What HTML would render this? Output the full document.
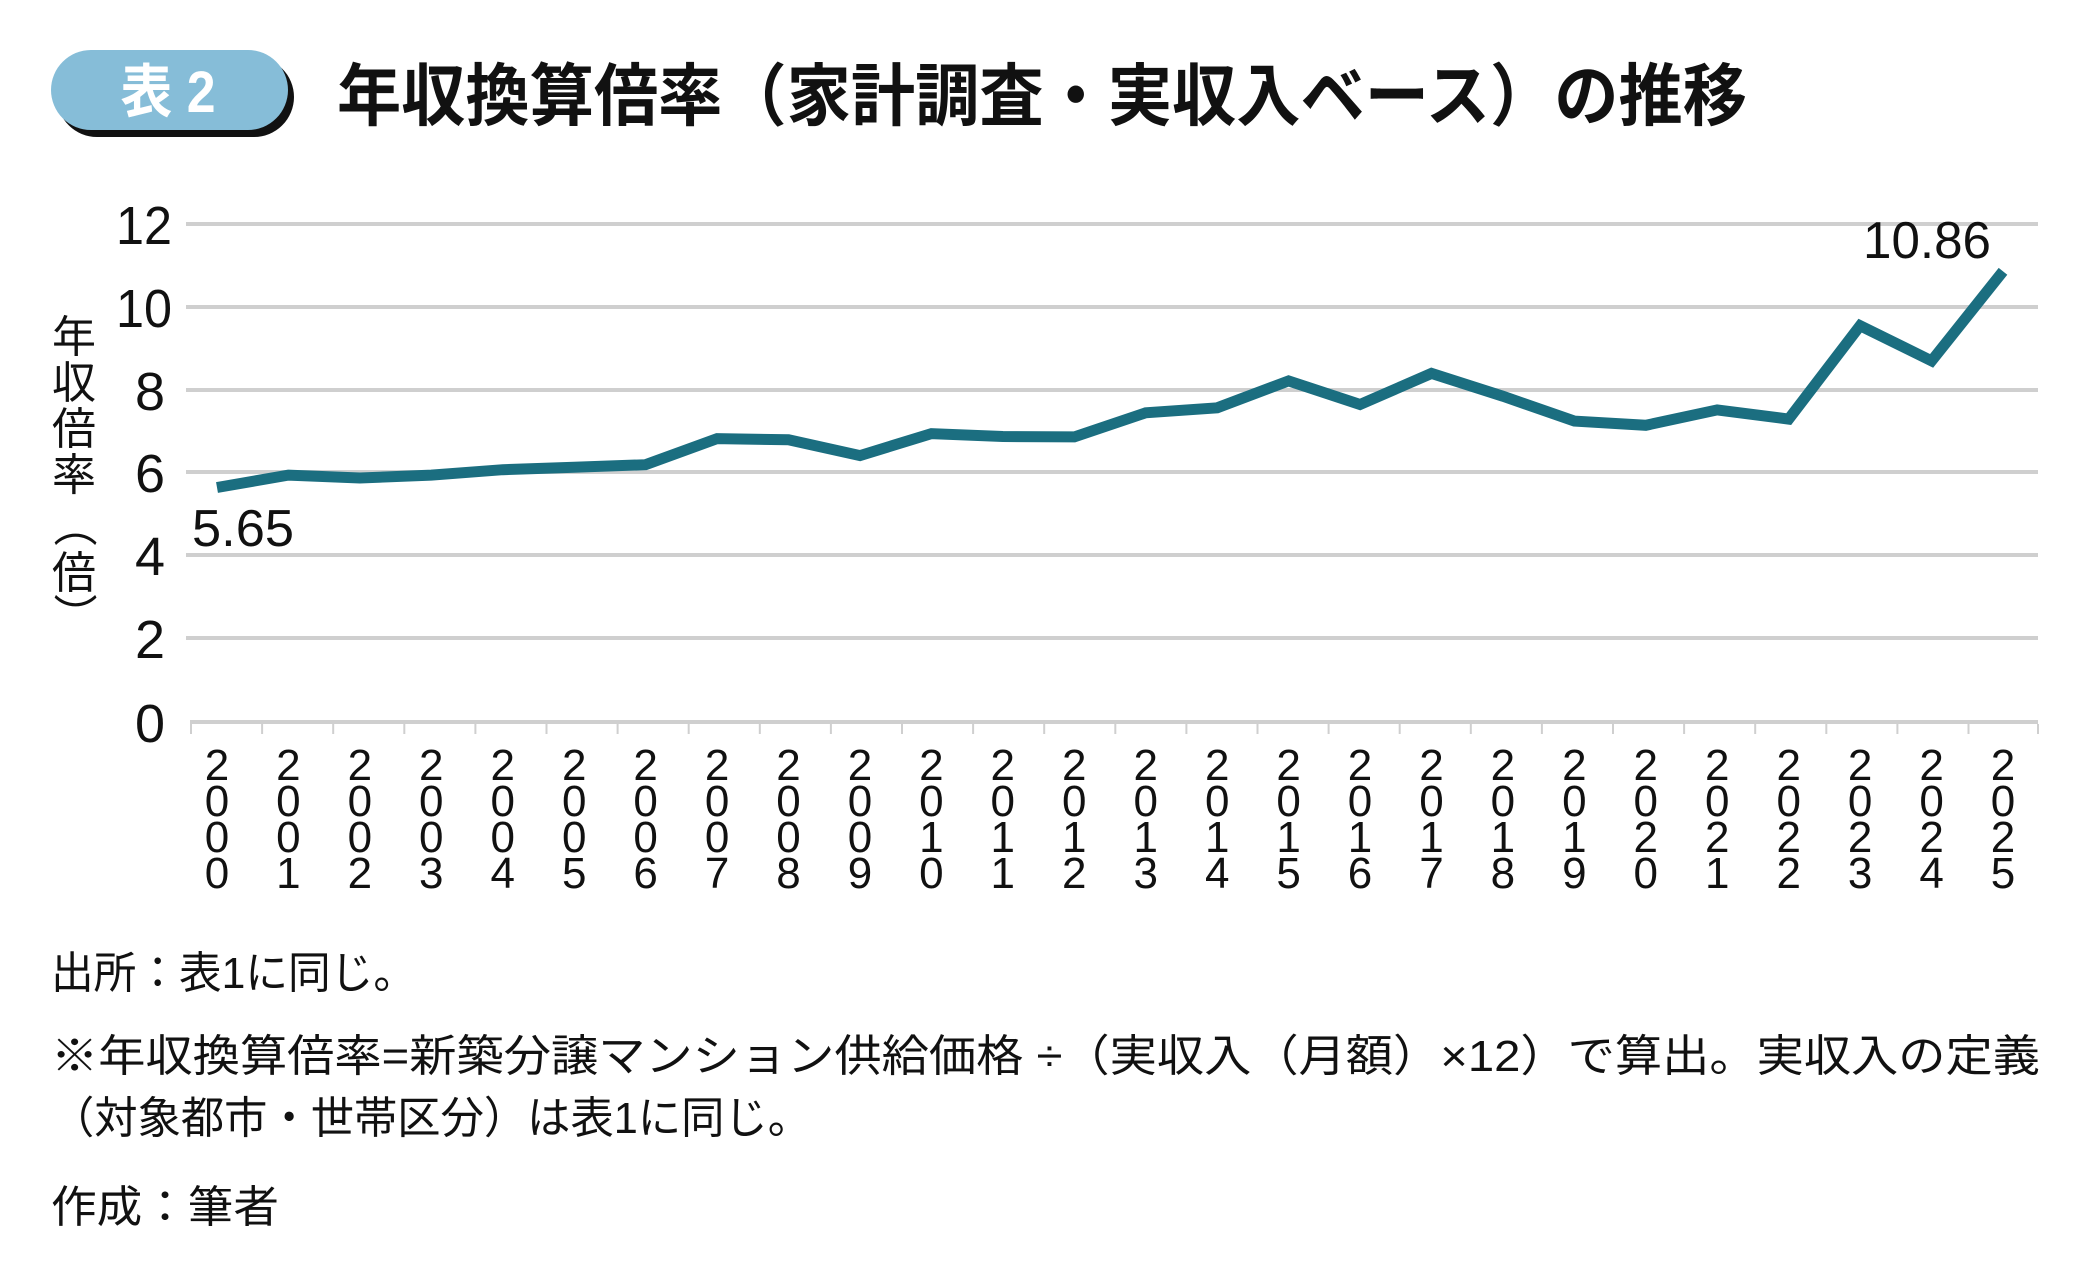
<!DOCTYPE html>
<html><head><meta charset="utf-8"><style>
html,body{margin:0;padding:0;background:#fff;}
svg{display:block;}
text{font-family:"Liberation Sans","Noto Sans CJK JP",sans-serif;fill:#111;}
</style></head><body>
<svg width="2090" height="1275" viewBox="0 0 2090 1275" xmlns="http://www.w3.org/2000/svg">
<rect x="57" y="57" width="237" height="80" rx="40" fill="#111"/>
<rect x="51" y="50" width="237" height="80" rx="40" fill="#86bdd8"/>
<text x="168" y="112" font-size="58" font-weight="bold" text-anchor="middle" style="fill:#fff" textLength="95" lengthAdjust="spacingAndGlyphs">表 2</text>
<text x="337" y="120" font-size="68" font-weight="bold" textLength="1410" lengthAdjust="spacingAndGlyphs">年収換算倍率（家計調査・実収入ベース）の推移</text>
<g stroke="#cfcfcf" stroke-width="4">
<line x1="186" x2="2038" y1="224" y2="224"/>
<line x1="186" x2="2038" y1="307" y2="307"/>
<line x1="186" x2="2038" y1="390" y2="390"/>
<line x1="186" x2="2038" y1="472" y2="472"/>
<line x1="186" x2="2038" y1="555" y2="555"/>
<line x1="186" x2="2038" y1="638" y2="638"/>
<line x1="190" x2="2038" y1="722" y2="722"/>
</g>
<path stroke="#cfcfcf" stroke-width="2" fill="none" d="M191 724V734M262.1 724V734M333.2 724V734M404.3 724V734M475.4 724V734M546.5 724V734M617.6 724V734M688.7 724V734M759.8 724V734M830.9 724V734M902 724V734M973.1 724V734M1044.2 724V734M1115.3 724V734M1186.4 724V734M1257.5 724V734M1328.6 724V734M1399.7 724V734M1470.8 724V734M1541.9 724V734M1613 724V734M1684.1 724V734M1755.2 724V734M1826.3 724V734M1897.4 724V734M1968.5 724V734M2038 724V734"/>
<g font-size="54" text-anchor="end">
<text x="172" y="244" textLength="56" lengthAdjust="spacingAndGlyphs">12</text>
<text x="172" y="327" textLength="56" lengthAdjust="spacingAndGlyphs">10</text>
<text x="165" y="410">8</text>
<text x="165" y="492">6</text>
<text x="165" y="575">4</text>
<text x="165" y="658">2</text>
<text x="165" y="742">0</text>
</g>
<g font-size="44" text-anchor="middle">
<text x="74" y="352">年</text>
<text x="74" y="398">収</text>
<text x="74" y="444">倍</text>
<text x="74" y="490">率</text>
<text x="74" y="540" transform="rotate(90 74 525)">（</text>
<text x="74" y="588">倍</text>
<text x="74" y="630" transform="rotate(90 74 615)">）</text>
</g>
<polyline fill="none" stroke="#1b6e80" stroke-width="11" stroke-linejoin="miter"
points="217,487.5 288.4,475.1 359.9,478.0 431.3,475.1 502.8,469.7 574.2,467.2 645.6,464.7 717.1,438.6 788.5,439.8 860,455.6 931.4,433.6 1002.8,436.5 1074.3,436.9 1145.7,412.8 1217.2,407.8 1288.6,380.9 1360,404.5 1431.5,373.4 1502.9,396.2 1574.4,421.1 1645.8,425.3 1717.2,409.9 1788.7,419.1 1860.1,325.7 1931.6,360.9 2003,271.3"/>
<g font-size="44" text-anchor="middle">
<text y="780" x="217 288.4 359.9 431.3 502.8 574.2 645.6 717.1 788.5 860 931.4 1002.8 1074.3 1145.7 1217.2 1288.6 1360 1431.5 1502.9 1574.4 1645.8 1717.2 1788.7 1860.1 1931.6 2003">22222222222222222222222222</text>
<text y="816" x="217 288.4 359.9 431.3 502.8 574.2 645.6 717.1 788.5 860 931.4 1002.8 1074.3 1145.7 1217.2 1288.6 1360 1431.5 1502.9 1574.4 1645.8 1717.2 1788.7 1860.1 1931.6 2003">00000000000000000000000000</text>
<text y="852" x="217 288.4 359.9 431.3 502.8 574.2 645.6 717.1 788.5 860 931.4 1002.8 1074.3 1145.7 1217.2 1288.6 1360 1431.5 1502.9 1574.4 1645.8 1717.2 1788.7 1860.1 1931.6 2003">00000000001111111111222222</text>
<text y="888" x="217 288.4 359.9 431.3 502.8 574.2 645.6 717.1 788.5 860 931.4 1002.8 1074.3 1145.7 1217.2 1288.6 1360 1431.5 1502.9 1574.4 1645.8 1717.2 1788.7 1860.1 1931.6 2003">01234567890123456789012345</text>
</g>
<text x="1927" y="258" font-size="52" text-anchor="middle" textLength="128" lengthAdjust="spacingAndGlyphs">10.86</text>
<text x="243" y="546" font-size="52" text-anchor="middle" textLength="102" lengthAdjust="spacingAndGlyphs">5.65</text>
<g font-size="44">
<text x="51" y="988" textLength="365" lengthAdjust="spacingAndGlyphs">出所：表1に同じ。</text>
<text x="51" y="1071" textLength="1989" lengthAdjust="spacingAndGlyphs">※年収換算倍率=新築分譲マンション供給価格 ÷（実収入（月額）×12）で算出。実収入の定義</text>
<text x="51" y="1133" textLength="760" lengthAdjust="spacingAndGlyphs">（対象都市・世帯区分）は表1に同じ。</text>
<text x="51" y="1222" textLength="228" lengthAdjust="spacingAndGlyphs">作成：筆者</text>
</g>
</svg>
</body></html>
